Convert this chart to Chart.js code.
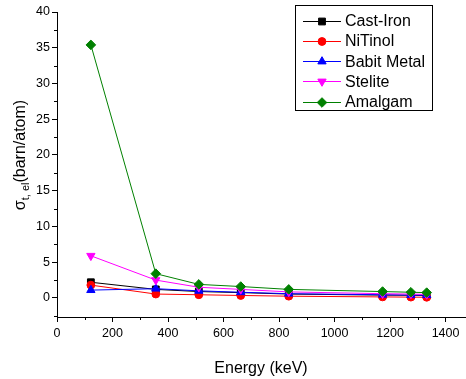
<!DOCTYPE html>
<html><head><meta charset="utf-8">
<script src="https://cdn.jsdelivr.net/npm/chart.js@4/dist/chart.umd.min.js"></script>
<style>html,body{margin:0;padding:0;background:#fff;} #wrap{width:466px;height:379px;}</style>
</head><body><div id="wrap"><canvas id="c" width="466" height="379"></canvas></div>
<script>
const energies = [122, 356, 511, 662, 835, 1173, 1275, 1332];
const castIron = [2.2, 1.2, 0.9, 0.75, 0.55, 0.4, 0.38, 0.35];
const niTinol = [1.8, 0.55, 0.45, 0.35, 0.25, 0.15, 0.12, 0.1];
const babitMetal = [1.1, 1.3, 1.0, 0.8, 0.6, 0.45, 0.4, 0.4];
const stelite = [5.9, 2.5, 1.5, 1.2, 0.85, 0.6, 0.55, 0.5];
const amalgam = [35.4, 3.4, 1.9, 1.6, 1.2, 0.9, 0.8, 0.75];
const seriesNames = ['Cast-Iron', 'NiTinol', 'Babit Metal', 'Stelite', 'Amalgam'];
const xTicks = [0, 200, 400, 600, 800, 1000, 1200, 1400];
const yTicks = [0, 5, 10, 15, 20, 25, 30, 35, 40];
const xMinorTicks = [100, 300, 500, 700, 900, 1100, 1300];
const yMinorTicks = [-2.5, 2.5, 7.5, 12.5, 17.5, 22.5, 27.5, 32.5, 37.5];

const FONT = '"Liberation Sans", Arial, sans-serif';
const seriesValues = [castIron, niTinol, babitMetal, stelite, amalgam];
const colors = ['#000000', '#ff0000', '#0000ff', '#ff00ff', '#008000'];
const styles = ['rect', 'circle', 'triangle', 'triangle', 'rectRot'];
const rotations = [0, 0, 0, 180, 0];
const radii = [4.8, 3.9, 4.8, 4.8, 4.8];

const datasets = seriesNames.map((name, i) => ({
  label: name,
  data: energies.map((e, j) => ({x: e, y: seriesValues[i][j]})),
  borderColor: colors[i],
  backgroundColor: colors[i],
  borderWidth: 1,
  pointStyle: styles[i],
  rotation: rotations[i],
  pointRadius: radii[i],
  pointBorderWidth: 1,
  pointBorderColor: colors[i],
  pointBackgroundColor: colors[i],
  tension: 0,
  order: seriesNames.length - i
}));

function drawMarker(ctx, i, x, y) {
  if (Chart.helpers && Chart.helpers.drawPoint) {
    ctx.fillStyle = colors[i]; ctx.strokeStyle = colors[i]; ctx.lineWidth = 1;
    Chart.helpers.drawPoint(ctx, {pointStyle: styles[i], rotation: rotations[i], radius: radii[i], borderWidth: 1}, x, y);
  }
}

const extras = {
  id: 'extras',
  afterDraw(chart) {
    const ctx = chart.ctx;
    const xs = chart.scales.x, ys = chart.scales.y;
    ctx.save();
    ctx.strokeStyle = '#000'; ctx.lineWidth = 1;
    ctx.beginPath();
    xMinorTicks.forEach(v => {
      const px = Math.round(xs.getPixelForValue(v)) + 0.5;
      ctx.moveTo(px, ys.bottom); ctx.lineTo(px, ys.bottom + 3);
    });
    yMinorTicks.forEach(v => {
      const py = Math.round(ys.getPixelForValue(v)) + 0.5;
      ctx.moveTo(xs.left - 3, py); ctx.lineTo(xs.left, py);
    });
    ctx.stroke();

    const cy = 155, cx = 19;
    ctx.translate(cx, cy);
    ctx.rotate(-Math.PI / 2);
    ctx.fillStyle = '#000';
    ctx.textBaseline = 'alphabetic';
    ctx.textAlign = 'left';
    const mainFont = '16px ' + FONT, subFont = '11px ' + FONT;
    ctx.font = mainFont; const w1 = ctx.measureText('σ').width; const w3 = ctx.measureText('(barn/atom)').width;
    ctx.font = subFont; const w2 = ctx.measureText('t, el').width;
    let u = -(w1 + w2 + w3) / 2;
    ctx.font = mainFont; ctx.fillText('σ', u, 6); u += w1;
    ctx.font = subFont; ctx.fillText('t, el', u, 10); u += w2;
    ctx.font = mainFont; ctx.fillText('(barn/atom)', u, 6);
    ctx.restore();

    ctx.save();
    ctx.strokeStyle = '#000'; ctx.lineWidth = 1;
    ctx.strokeRect(295.5, 5.5, 137, 105);
    ctx.font = '16px ' + FONT;
    ctx.textBaseline = 'middle';
    ctx.textAlign = 'left';
    seriesNames.forEach((name, i) => {
      const y = 20.5 + i * 20.3;
      ctx.strokeStyle = colors[i]; ctx.lineWidth = 1;
      ctx.beginPath(); ctx.moveTo(303, Math.round(y) + 0.5); ctx.lineTo(341, Math.round(y) + 0.5); ctx.stroke();
      drawMarker(ctx, i, 322, Math.round(y) + 0.5);
      ctx.fillStyle = '#000';
      ctx.fillText(name, 345, y + 1);
    });
    ctx.restore();
  }
};

new Chart(document.getElementById('c'), {
  type: 'line',
  data: {datasets},
  plugins: [extras],
  options: {
    responsive: false,
    animation: false,
    devicePixelRatio: 1,
    layout: {autoPadding: false, padding: {left: 0, right: 1, top: 12, bottom: 0}},
    plugins: {legend: {display: false}, tooltip: {enabled: false}},
    scales: {
      x: {
        type: 'linear', min: 0, max: 1470,
        afterBuildTicks: s => { s.ticks = xTicks.map(v => ({value: v})); },
        afterFit: s => { s.height = 62; s.paddingLeft = 0; s.paddingRight = 0; },
        border: {display: true, color: '#000', width: 1},
        grid: {display: true, drawOnChartArea: false, drawTicks: true, tickLength: 5, color: '#000'},
        ticks: {color: '#000', font: {family: FONT, size: 12.5}, padding: 4, maxRotation: 0, autoSkip: false, callback: v => String(v)},
        title: {display: true, text: 'Energy (keV)', color: '#000', font: {family: FONT, size: 16}, padding: {top: 0, bottom: 1}}
      },
      y: {
        type: 'linear', min: -2.66, max: 40,
        afterBuildTicks: s => { s.ticks = yTicks.map(v => ({value: v})); },
        afterFit: s => { s.width = 57; s.paddingTop = 0; s.paddingBottom = 0; },
        border: {display: true, color: '#000', width: 1},
        grid: {display: true, drawOnChartArea: false, drawTicks: true, tickLength: 5, color: '#000'},
        ticks: {color: '#000', font: {family: FONT, size: 12.5}, padding: 2, autoSkip: false, callback: v => String(v)}
      }
    }
  }
});
</script></body></html>
